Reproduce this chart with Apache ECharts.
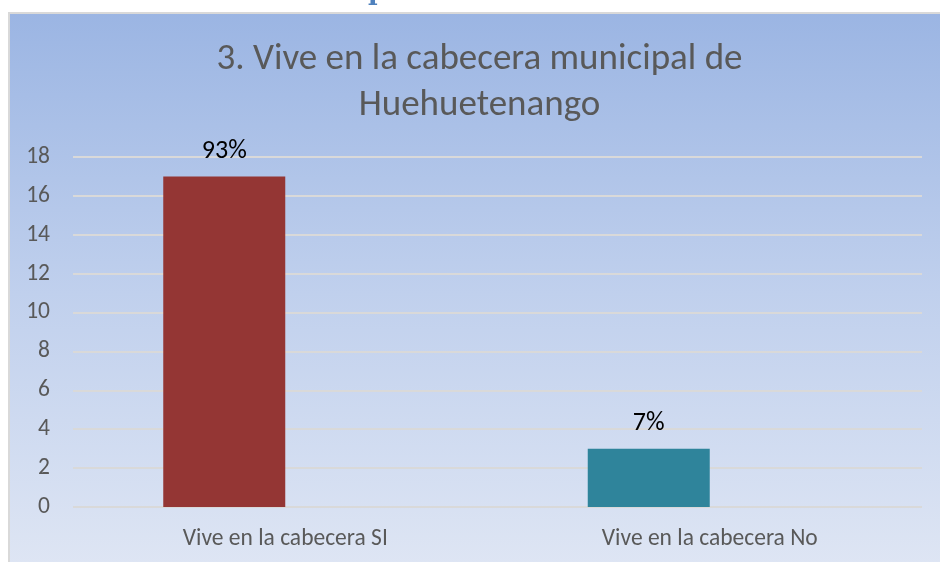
<!DOCTYPE html>
<html>
<head>
<meta charset="utf-8">
<script src="https://cdn.jsdelivr.net/npm/echarts@6/dist/echarts.min.js"></script>
<style>
  html, body { margin: 0; padding: 0; background: #fff; }
  #chart { width: 940px; height: 562px; }
</style>
</head>
<body>
<div id="chart"></div>
<script>
// data
const categories = ['Vive en la cabecera SI', 'Vive en la cabecera No'];
const counts = [17, 3];
const pctLabels = ['93%', '7%'];
const barColors = ['#943634', '#2f849b'];
const yTicks = [0, 2, 4, 6, 8, 10, 12, 14, 16, 18];

const titleLines = ['3. Vive en la cabecera municipal de', 'Huehuetenango'];
const FONT = 'Carlito, Lato, sans-serif';

const chart = echarts.init(document.getElementById('chart'), null, { renderer: 'canvas' });

chart.setOption({
  animation: false,
  backgroundColor: '#ffffff',
  graphic: [
    {
      // cut-off heading of the page above the chart
      type: 'text',
      z: -20,
      x: 368,
      y: -20,
      style: { text: 'p', font: 'bold 26px "DejaVu Serif", serif', fill: '#4f81bd' },
    },
    {
      type: 'rect',
      z: -10,
      shape: { x: 9, y: 13, width: 944, height: 560 },
      style: {
        fill: new echarts.graphic.LinearGradient(0, 0, 0, 1, [
          { offset: 0, color: '#9bb5e3' },
          { offset: 0.5, color: '#c0d0ed' },
          { offset: 1, color: '#dfe6f4' },
        ]),
        stroke: '#d9d9d9',
        lineWidth: 2,
      },
    },
    {
      type: 'text',
      z: 5,
      x: 479.5,
      y: 37,
      style: {
        text: titleLines.join('\n'),
        font: '37px ' + FONT,
        fill: '#595959',
        align: 'center',
        verticalAlign: 'top',
        lineHeight: 46,
      },
    },
  ],
  grid: { left: 73, right: 18, top: 157, bottom: 55, containLabel: false },
  xAxis: {
    type: 'category',
    data: categories,
    axisLine: { show: false },
    axisTick: { show: false },
    axisLabel: { color: '#595959', fontSize: 23.5, fontFamily: FONT, margin: 20 },
  },
  yAxis: {
    type: 'value',
    min: yTicks[0],
    max: yTicks[yTicks.length - 1],
    interval: 2,
    axisLine: { show: false },
    axisTick: { show: false },
    axisLabel: { color: '#595959', fontSize: 23.5, fontFamily: FONT, margin: 23 },
    splitLine: { lineStyle: { color: '#d9d9d9', width: 2 } },
  },
  series: [
    {
      type: 'bar',
      barWidth: 122,
      barGap: '0%',
      data: counts.map((v, i) => ({ value: v, itemStyle: { color: barColors[i] } })),
      label: {
        show: true,
        position: 'top',
        distance: 12,
        color: '#000000',
        fontSize: 26,
        fontFamily: FONT,
        formatter: (p) => pctLabels[p.dataIndex],
      },
    },
    {
      // empty second slot, keeps the bar left of the category centre
      type: 'bar',
      barWidth: 122,
      barGap: '0%',
      data: categories.map(() => '-'),
    },
  ],
});
</script>
</body>
</html>
